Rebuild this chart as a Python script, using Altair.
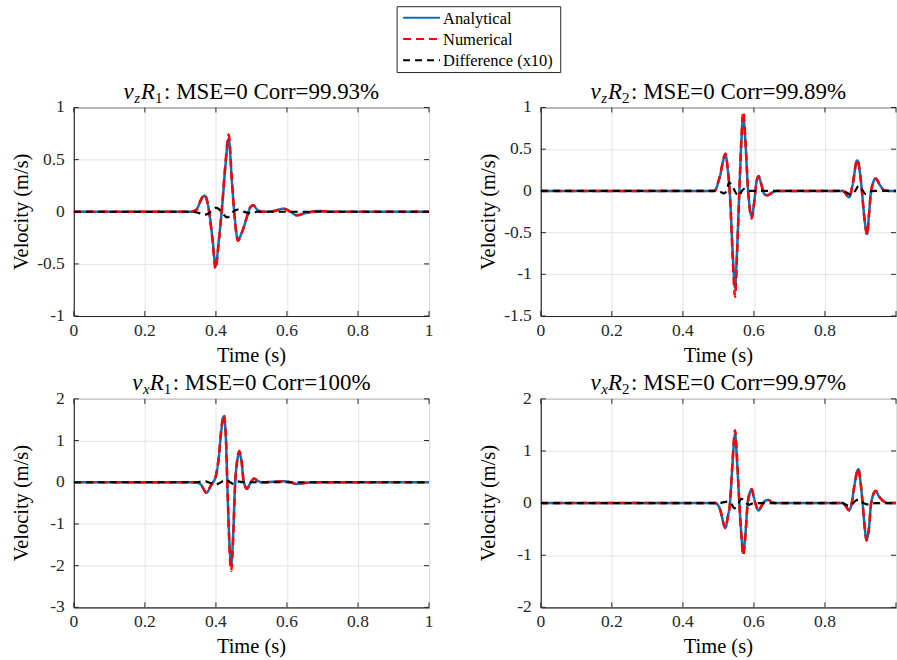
import altair as alt
import pandas as pd

FONT = "Liberation Serif, Times New Roman, serif"
INK = "#262626"

SERIES = ["Analytical", "Numerical", "Difference (x10)"]
COLORS = ["#0072BD", "#FF0000", "#000000"]
DASHES = [[1, 0], [8, 5], [7, 5]]

# ---------------- top-left: vz R1 ----------------
tl_t = [0, 0.33, 0.345, 0.358, 0.368, 0.3755, 0.385, 0.391, 0.399, 0.408, 0.418, 0.427, 0.436,
        0.445, 0.453, 0.462, 0.474, 0.488, 0.497, 0.505, 0.516, 0.53, 0.56, 0.591, 0.61, 0.628,
        0.65, 0.69, 0.72, 1.0]
tl_ana = [0, 0, 0.02, 0.11, 0.155, 0.10, -0.10, -0.28, -0.52, -0.28, 0.07, 0.45, 0.70,
          0.29, -0.06, -0.266, -0.19, -0.045, 0.043, 0.062, 0.02, 0.0, 0.005, 0.03, 0.0, -0.034,
          -0.015, 0.008, 0.0, 0.0]
tl_num = [0, 0, 0.02, 0.12, 0.165, 0.10, -0.11, -0.30, -0.55, -0.29, 0.08, 0.47, 0.74,
          0.30, -0.07, -0.28, -0.19, -0.04, 0.045, 0.063, 0.02, 0.0, 0.005, 0.03, 0.0, -0.034,
          -0.015, 0.008, 0.0, 0.0]
tl_dt = [0, 0.33, 0.35, 0.365, 0.378, 0.39, 0.40, 0.41, 0.42, 0.432, 0.442, 0.452, 0.462,
         0.475, 0.49, 0.50, 0.515, 1.0]
tl_dif = [0, 0, -0.01, -0.03, -0.02, 0.02, 0.04, 0.02, -0.02, -0.055, -0.03, 0.01, 0.02,
          0.005, -0.01, -0.015, 0, 0]

# ---------------- top-right: vz R2 ----------------
tr_t = [0, 0.489, 0.503, 0.520, 0.526, 0.533, 0.540, 0.547, 0.5525, 0.559, 0.5646, 0.570,
        0.576, 0.583, 0.594, 0.601, 0.6076, 0.613, 0.621, 0.629, 0.638, 0.652, 0.666, 0.851,
        0.8586, 0.868, 0.877, 0.891, 0.898, 0.904, 0.911, 0.919, 0.924, 0.930, 0.943, 0.954,
        0.966, 0.98, 1.0]
tr_ana = [0, 0, 0.155, 0.434, 0.27, -0.085, -0.72, -1.16, -0.72, 0.0, 0.59, 0.89,
          0.59, 0.04, -0.304, -0.125, 0.115, 0.175, 0.075, -0.037, -0.053, -0.02, 0, 0,
          -0.035, -0.077, 0.055, 0.366, 0.234, 0.0, -0.324, -0.515, -0.28, 0.0, 0.147, 0.075,
          0.01, 0, 0]
tr_num = [0, 0, 0.16, 0.45, 0.28, -0.09, -0.78, -1.27, -0.76, 0.0, 0.62, 0.95,
          0.61, 0.04, -0.33, -0.13, 0.12, 0.18, 0.075, -0.037, -0.053, -0.02, 0, 0,
          -0.035, -0.08, 0.055, 0.375, 0.24, 0.0, -0.33, -0.525, -0.28, 0.0, 0.15, 0.075,
          0.01, 0, 0]
tr_dt = [0, 0.49, 0.505, 0.515, 0.523, 0.53, 0.54, 0.55, 0.558, 0.566, 0.576, 0.59, 0.61,
         0.85, 0.865, 0.875, 0.885, 0.895, 0.905, 0.915, 0.925, 0.94, 1.0]
tr_dif = [0, 0, -0.01, -0.03, 0.0, 0.10, 0.05, -0.03, -0.06, 0.0, 0.03, 0.0, 0,
          0, -0.03, -0.05, 0.0, 0.06, 0.01, -0.04, -0.01, 0, 0]

# ---------------- bottom-left: vx R1 ----------------
bl_t = [0, 0.343, 0.357, 0.374, 0.385, 0.392, 0.40, 0.408, 0.415, 0.422, 0.428, 0.432, 0.437,
        0.443, 0.4486, 0.454, 0.46, 0.466, 0.473, 0.478, 0.488, 0.495, 0.508, 0.518, 0.53,
        0.591, 0.61, 0.628, 0.656, 0.70, 1.0]
bl_ana = [0, 0, -0.05, -0.25, -0.09, 0.0, 0.15, 0.59, 1.23, 1.57, 1.07, 0.0, -1.25,
          -1.97, -1.25, -0.05, 0.51, 0.71, 0.43, 0.02, -0.15, -0.05, 0.085, 0.03, 0,
          0.024, 0, -0.04, -0.01, 0, 0]
bl_num = [0, 0, -0.05, -0.26, -0.09, 0.0, 0.16, 0.61, 1.27, 1.62, 1.10, 0.0, -1.32,
          -2.13, -1.32, -0.05, 0.54, 0.75, 0.45, 0.02, -0.16, -0.05, 0.09, 0.03, 0,
          0.024, 0, -0.04, -0.01, 0, 0]
bl_dt = [0, 0.34, 0.355, 0.37, 0.385, 0.398, 0.41, 0.42, 0.43, 0.44, 0.45, 0.46, 0.47, 0.49, 1.0]
bl_dif = [0, 0, 0.01, 0.02, -0.02, -0.06, -0.02, 0.03, 0.06, 0.0, -0.04, 0.02, 0.01, 0, 0]

# ---------------- bottom-right: vx R2 ----------------
br_t = [0, 0.4916, 0.503, 0.520, 0.526, 0.533, 0.539, 0.547, 0.5525, 0.559, 0.5646, 0.570,
        0.576, 0.583, 0.594, 0.599, 0.604, 0.613, 0.621, 0.629, 0.641, 0.652, 0.666, 0.851,
        0.8586, 0.868, 0.8746, 0.882, 0.894, 0.8998, 0.906, 0.912, 0.917, 0.924, 0.930, 0.943,
        0.952, 0.966, 0.98, 1.0]
br_ana = [0, 0, -0.09, -0.47, -0.28, 0.03, 0.68, 1.32, 0.81, 0, -0.6, -0.955,
          -0.6, 0.03, 0.26, 0.13, 0, -0.14, -0.06, 0.03, 0.06, 0.01, 0, 0,
          -0.06, -0.135, -0.03, 0.3, 0.65, 0.42, 0, -0.47, -0.70, -0.47, 0, 0.23,
          0.13, 0.03, 0, 0]
br_num = [0, 0, -0.09, -0.48, -0.29, 0.03, 0.72, 1.40, 0.85, 0, -0.63, -1.0,
          -0.62, 0.03, 0.27, 0.13, 0, -0.145, -0.06, 0.03, 0.06, 0.01, 0, 0,
          -0.06, -0.14, -0.03, 0.3, 0.66, 0.42, 0, -0.48, -0.72, -0.48, 0, 0.235,
          0.13, 0.03, 0, 0]
br_dt = [0, 0.49, 0.51, 0.525, 0.535, 0.545, 0.555, 0.565, 0.575, 0.585, 0.60, 0.85, 0.865,
         0.875, 0.885, 0.895, 0.905, 0.915, 0.925, 0.94, 1.0]
br_dif = [0, 0, 0.01, 0.03, 0.0, -0.1, -0.02, 0.08, 0.03, -0.03, 0, 0, -0.05,
          -0.03, 0.04, 0.07, 0.02, -0.02, -0.03, 0, 0]

X_TICKS = [0, 0.2, 0.4, 0.6, 0.8, 1]

PANELS = {
    "TL": dict(t=tl_t, a=tl_ana, n=tl_num, dt=tl_dt, d=tl_dif, ydom=[-1, 1],
               yvals=[-1, -0.5, 0, 0.5, 1], s1="z", s2="1", rest=": MSE=0 Corr=99.93%"),
    "TR": dict(t=tr_t, a=tr_ana, n=tr_num, dt=tr_dt, d=tr_dif, ydom=[-1.5, 1],
               yvals=[-1.5, -1, -0.5, 0, 0.5, 1], s1="z", s2="2", rest=": MSE=0 Corr=99.89%"),
    "BL": dict(t=bl_t, a=bl_ana, n=bl_num, dt=bl_dt, d=bl_dif, ydom=[-3, 2],
               yvals=[-3, -2, -1, 0, 1, 2], s1="x", s2="1", rest=": MSE=0 Corr=100%"),
    "BR": dict(t=br_t, a=br_ana, n=br_num, dt=br_dt, d=br_dif, ydom=[-2, 2],
               yvals=[-2, -1, 0, 1, 2], s1="x", s2="2", rest=": MSE=0 Corr=99.97%"),
}

rows = []
for key, p in PANELS.items():
    for t, v in zip(p["t"], p["a"]):
        rows.append(dict(panel=key, series=SERIES[0], t=t, v=v))
    for t, v in zip(p["t"], p["n"]):
        rows.append(dict(panel=key, series=SERIES[1], t=t, v=v))
    for t, v in zip(p["dt"], p["d"]):
        rows.append(dict(panel=key, series=SERIES[2], t=t, v=v))
df = pd.DataFrame(rows)

# approximate Times-like glyph widths (em) for centering the composite titles
W = {" ": .25, ":": .278, "=": .564, ".": .25, "%": .833, "M": .889, "S": .556, "E": .611,
     "C": .667, "o": .5, "r": .333}
def tw(s, size):
    return sum(W.get(c, .5) for c in s) * size

PW, PH = 356, 209
MAIN, SUB = 23, 15
LAB, TIT = 17.5, 20.5
one = pd.DataFrame({"k": [0]})

AX = dict(labels=False, title=None, ticks=False, domainColor=INK, domainWidth=1,
          gridColor="#E3E3E3", gridWidth=1)


def text_mark(txt, px, py, size, style="normal", align="left", baseline="alphabetic", angle=0):
    return alt.Chart(one).mark_text(
        text=txt, font=FONT, fontSize=size, fontStyle=style, align=align,
        baseline=baseline, color="#000000", angle=angle
    ).encode(x=alt.value(px), y=alt.value(py))


def title_layers(s1, s2, rest):
    w_v = .444 * MAIN
    w_s1 = .42 * SUB
    w_R = .611 * MAIN
    w_s2 = .5 * SUB
    gap = 1.5
    total = w_v + 0.5 + w_s1 + 0.5 + w_R + w_s2 + gap + tw(rest, MAIN)
    x = PW / 2 - total / 2
    base = -9
    out = [text_mark("v", x, base, MAIN, "italic")]
    x += w_v + 0.5
    out.append(text_mark(s1, x, base + 4, SUB, "italic"))
    x += w_s1 + 0.5
    out.append(text_mark("R", x, base, MAIN, "italic"))
    x += w_R
    out.append(text_mark(s2, x, base + 4, SUB))
    x += w_s2 + gap
    out.append(text_mark(rest, x, base, MAIN))
    return out


def legend_layers():
    # box and entries placed above the top-left panel (pixel offsets from its plot origin)
    out = [alt.Chart(one).mark_rect(fill="white", stroke=INK, strokeWidth=1).encode(
        x=alt.value(324), x2=alt.value(488), y=alt.value(-101), y2=alt.value(-35))]
    for i, (s, c, d) in enumerate(zip(SERIES, COLORS, DASHES)):
        yy = -90 + i * 21.3
        out.append(alt.Chart(one).mark_rule(color=c, strokeWidth=2, strokeDash=d).encode(
            x=alt.value(330), x2=alt.value(367), y=alt.value(yy)))
        out.append(text_mark(s, 370, yy + 1, 16.5, baseline="middle"))
    return out


def panel(key, right, with_legend=False):
    p = PANELS[key]
    x = alt.X("t:Q", scale=alt.Scale(domain=[0, 1], nice=False, zero=False),
              axis=alt.Axis(values=X_TICKS, **AX))
    y = alt.Y("v:Q", scale=alt.Scale(domain=p["ydom"], nice=False, zero=False),
              axis=alt.Axis(values=p["yvals"], **AX))
    color = alt.Color("series:N", scale=alt.Scale(domain=SERIES, range=COLORS), legend=None)
    dash = alt.StrokeDash("series:N", scale=alt.Scale(domain=SERIES, range=DASHES), legend=None)
    base = alt.Chart(df).transform_filter(alt.datum.panel == key)
    widths = [2.5, 2.5, 2.2]
    layers = []
    xticks = [t for t in X_TICKS if not (right and t == 1)]
    xt = pd.DataFrame({"t": X_TICKS})
    xl = pd.DataFrame({"t": xticks, "lab": [f"{t:g}" for t in xticks]})
    yt = pd.DataFrame({"v": p["yvals"], "lab": [f"{v:g}" for v in p["yvals"]]})
    # inward MATLAB-style ticks
    tick = dict(color=INK, strokeWidth=1)
    layers.append(alt.Chart(xt).mark_rule(**tick).encode(x=x, y=alt.value(PH - 5), y2=alt.value(PH)))
    layers.append(alt.Chart(xt).mark_rule(**tick).encode(x=x, y=alt.value(0), y2=alt.value(5)))
    layers.append(alt.Chart(yt).mark_rule(**tick).encode(y=y, x=alt.value(0), x2=alt.value(5)))
    layers.append(alt.Chart(yt).mark_rule(**tick).encode(y=y, x=alt.value(PW - 5), x2=alt.value(PW)))
    # tick labels as serif text
    layers.append(alt.Chart(xl).mark_text(font=FONT, fontSize=LAB, color=INK, baseline="middle",
                                          align="center").encode(x=x, y=alt.value(PH + 15), text="lab:N"))
    layers.append(alt.Chart(yt).mark_text(font=FONT, fontSize=LAB, color=INK, baseline="middle",
                                          align="right").encode(y=y, x=alt.value(-9), text="lab:N"))
    for s, w in zip(SERIES, widths):
        layers.append(
            base.transform_filter(alt.datum.series == s)
            .mark_line(strokeWidth=w, interpolate="monotone", clip=True)
            .encode(x=x, y=y, color=color, strokeDash=dash, order="t:Q")
        )
    # axis titles
    layers.append(text_mark("Time (s)", PW / 2, PH + 40, TIT, align="center", baseline="middle"))
    layers.append(text_mark("Velocity (m/s)", -52, PH / 2, TIT, align="center", baseline="middle",
                            angle=270))
    layers += title_layers(p["s1"], p["s2"], p["rest"])
    if with_legend:
        layers += legend_layers()
    return alt.layer(*layers).properties(width=PW, height=PH)


chart = (
    alt.concat(panel("TL", False, True), panel("TR", True), panel("BL", False), panel("BR", True),
               columns=2, spacing={"row": 83, "column": 112}, bounds="flush")
    .properties(padding={"left": 11, "top": 5, "right": 0, "bottom": 0}, background="white")
    .configure(font=FONT)
    .configure_view(stroke=INK, strokeWidth=1)
)

chart.save("out.html", embed_options={"renderer": "svg", "actions": False})
